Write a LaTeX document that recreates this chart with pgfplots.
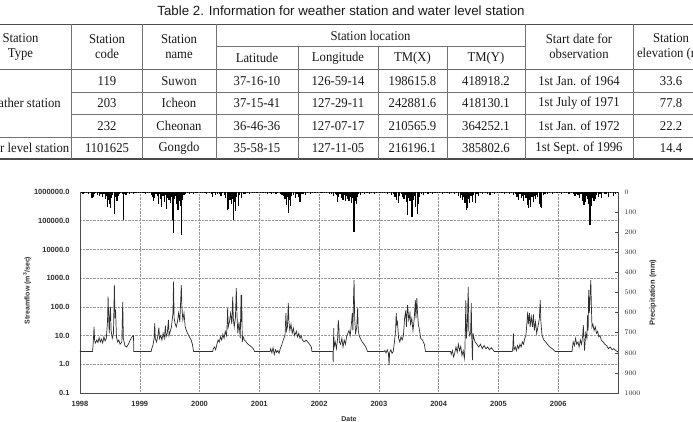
\documentclass[border=0pt]{standalone}
\usepackage{pgfplots}
\pgfplotsset{compat=1.18}
\usepackage{fontspec}
\setmainfont{Liberation Serif}
\newfontfamily\tabfont{Liberation Serif}[FakeStretch=0.94]
\newfontfamily\capfont{Liberation Sans}
\newfontfamily\plotfont{Liberation Sans}

\begin{document}
\begin{tikzpicture}[x=1pt,y=1pt]
\useasboundingbox (0,0) rectangle (693,421);
\clip (0,0) rectangle (693,421);

% ---------------- Table 2 ----------------
\begin{scope}[shift={(0pt,421pt)}, y=-1pt,
  every node/.style={font=\tabfont\fontsize{13.5}{15}\selectfont, text=black!90, inner sep=0pt}]
  \node[font=\capfont\fontsize{13.3}{15}\selectfont] at (341,10.7)
    {Table 2. Information for weather station and water level station};
  % rules
  \draw[black!70, line width=1.5pt] (0,24.3) -- (693,24.3);
  \draw[black!55, line width=0.8pt] (216,46.7) -- (525,46.7);
  \draw[black!60, line width=0.9pt] (0,69) -- (693,69);
  \draw[black!55, line width=0.8pt] (71,92) -- (693,92);
  \draw[black!55, line width=0.8pt] (71,114.5) -- (693,114.5);
  \draw[black!55, line width=0.8pt] (0,137) -- (693,137);
  \draw[black!70, line width=1.5pt] (0,159) -- (693,159);
  \foreach \cx in {71,142,216,525,633}
    \draw[black!55, line width=0.8pt] (\cx,24.3) -- (\cx,159);
  \foreach \cx in {298,378,447}
    \draw[black!55, line width=0.8pt] (\cx,46.7) -- (\cx,159);
  % header
  \node[align=center] at (20.5,46.5) {Station\\Type};
  \node[align=center] at (107,46.5) {Station\\code};
  \node[align=center] at (179,46.5) {Station\\name};
  \node at (370.5,35.5) {Station location};
  \node at (257,58) {Latitude};
  \node at (338,58) {Longitude};
  \node at (412.5,58) {TM(X)};
  \node at (486,58) {TM(Y)};
  \node[align=center] at (579,46.5) {Start date for\\observation};
  \node[align=center] at (671,46.5) {Station\\elevation (m)};
  % body
  \node[anchor=east] at (61,103) {Weather station};
  \node[anchor=east] at (69.5,148) {Water level station};
  \foreach \yy/\c/\n/\la/\lo/\tx/\ty/\d/\e in {
      81/119/Suwon/37-16-10/126-59-14/198615.8/418918.2/1st Jan. of 1964/33.6,
      103/203/Icheon/37-15-41/127-29-11/242881.6/418130.1/1st July of 1971/77.8,
      126/232/Cheonan/36-46-36/127-07-17/210565.9/364252.1/1st Jan. of 1972/22.2,
      148/1101625/Gongdo/35-58-15/127-11-05/216196.1/385802.6/1st Sept. of 1996/14.4}{
    \node at (107,\yy) {\c};
    \node at (179,\yy) {\n};
    \node at (257,\yy) {\la};
    \node at (338,\yy) {\lo};
    \node at (412.5,\yy) {\tx};
    \node at (486,\yy) {\ty};
    \node at (579,\yy) {\d};
    \node at (671,\yy) {\e};
  }
\end{scope}

% ---------------- Streamflow (log scale) ----------------
\begin{axis}[
  at={(80pt,28pt)}, anchor=south west, scale only axis,
  width=538pt, height=201pt,
  xmin=1998, xmax=2007, ymode=log, ymin=0.1, ymax=1e6,
  xtick={1998,1999,2000,2001,2002,2003,2004,2005,2006},
  xticklabels={1998,1999,2000,2001,2002,2003,2004,2005,2006},
  ytick={0.1,1,10,100,1000,10000,100000,1000000},
  yticklabels={0.1,1.0,10.0,100.0,1000.0,10000.0,100000.0,1000000.0},
  tick label style={font=\plotfont\bfseries\fontsize{7.5}{9}\selectfont, text=black!82},
  xticklabel style={yshift=-5pt},
  yticklabel style={xshift=-7pt},
  major tick length=0pt, minor tick length=0pt,
  grid=major, major grid style={densely dotted, black!40, line width=0.5pt},
  axis line style={black!70, line width=0.9pt},
  label style={font=\plotfont\bfseries\fontsize{7}{8.5}\selectfont, text=black!82},
  ylabel={Streamflow (m\textsuperscript{3}/sec)},
  ylabel style={at={(axis description cs:-0.0985,0.51)}, anchor=center},
  xlabel={Date},
  xlabel style={at={(axis description cs:0.5,-0.13)}, anchor=center},
]
\addplot[black!82, line width=0.7pt] coordinates {
(1998.00,2.8) (1998.21,2.8) (1998.22,5.0) (1998.235,20) (1998.245,6.5) (1998.26,5.5)
(1998.28,7.0) (1998.30,5.8) (1998.32,8.5) (1998.34,6.0) (1998.36,7.5) (1998.38,5.5)
(1998.40,9.0) (1998.42,6.5) (1998.44,8.0) (1998.46,30) (1998.47,226) (1998.48,40)
(1998.49,12) (1998.50,60) (1998.51,100) (1998.52,15) (1998.54,8) (1998.56,12)
(1998.575,575) (1998.585,40) (1998.595,80) (1998.61,9) (1998.63,6) (1998.65,7)
(1998.67,5) (1998.70,6) (1998.715,150) (1998.725,8) (1998.75,4.5) (1998.78,4.0)
(1998.81,5) (1998.84,7) (1998.87,9) (1998.895,10) (1998.90,2.8)
(1999.19,2.8) (1999.20,3.5) (1999.22,4.5) (1999.24,8) (1999.25,27) (1999.26,8)
(1999.28,6) (1999.30,9) (1999.32,19) (1999.33,8) (1999.35,10) (1999.37,7)
(1999.39,12) (1999.41,8) (1999.43,22) (1999.44,9) (1999.46,12) (1999.48,35)
(1999.49,10) (1999.51,14) (1999.53,20) (1999.555,60) (1999.565,760) (1999.575,40)
(1999.59,27) (1999.61,20) (1999.63,30) (1999.65,61) (1999.67,30) (1999.695,575)
(1999.705,100) (1999.72,35) (1999.74,60) (1999.76,20) (1999.78,15) (1999.80,12)
(1999.83,9) (1999.86,7) (1999.88,5) (1999.90,2.8)
(2000.22,2.8) (2000.23,3.5) (2000.25,4.0) (2000.27,3.2) (2000.29,5) (2000.31,7)
(2000.33,6) (2000.35,9) (2000.37,7) (2000.39,11) (2000.41,8) (2000.43,14)
(2000.45,10) (2000.46,20) (2000.47,90) (2000.48,20) (2000.50,30) (2000.52,60)
(2000.54,25) (2000.555,226) (2000.565,40) (2000.58,20) (2000.60,40) (2000.615,450)
(2000.625,60) (2000.64,12) (2000.66,30) (2000.68,8) (2000.695,260) (2000.70,30)
(2000.705,260) (2000.715,6) (2000.73,9) (2000.75,7) (2000.78,6) (2000.81,5)
(2000.84,4.5) (2000.87,4) (2000.90,3.5) (2000.92,2.8)
(2001.18,2.8) (2001.19,3.5) (2001.21,2.5) (2001.23,3.8) (2001.25,2.2) (2001.27,3.2)
(2001.29,2.6) (2001.31,3.0) (2001.33,2.4) (2001.35,3.5) (2001.37,4.5) (2001.39,6)
(2001.41,8) (2001.43,10) (2001.445,60) (2001.455,15) (2001.47,20) (2001.485,135)
(2001.495,30) (2001.51,15) (2001.53,25) (2001.55,12) (2001.57,18) (2001.59,10)
(2001.62,14) (2001.64,9) (2001.66,12) (2001.68,8) (2001.70,10) (2001.72,7)
(2001.75,6) (2001.78,7) (2001.81,6) (2001.84,5) (2001.87,4) (2001.88,2.8)
(2002.23,2.8) (2002.235,1.2) (2002.245,18) (2002.25,4) (2002.27,6) (2002.29,3.5)
(2002.31,8) (2002.32,35) (2002.33,21) (2002.34,6) (2002.36,5) (2002.38,8)
(2002.40,4) (2002.42,7) (2002.44,5) (2002.46,9) (2002.48,12) (2002.50,15)
(2002.52,10) (2002.54,25) (2002.555,60) (2002.565,15) (2002.575,170) (2002.585,860)
(2002.595,40) (2002.61,12) (2002.63,20) (2002.645,90) (2002.655,15) (2002.67,10)
(2002.69,8) (2002.72,6) (2002.75,5) (2002.78,4) (2002.81,2.8)
(2003.09,2.8) (2003.10,3.0) (2003.12,2.5) (2003.14,3.2) (2003.16,2.4) (2003.17,0.94)
(2003.18,2.6) (2003.20,3.2) (2003.22,2.4) (2003.24,2.8) (2003.26,6) (2003.28,15)
(2003.29,60) (2003.30,25) (2003.31,30) (2003.33,8) (2003.35,6) (2003.37,9)
(2003.39,7) (2003.41,10) (2003.43,40) (2003.45,75) (2003.46,20) (2003.48,115)
(2003.50,35) (2003.52,60) (2003.53,25) (2003.55,40) (2003.57,15) (2003.59,35)
(2003.61,170) (2003.62,40) (2003.635,200) (2003.645,70) (2003.66,25) (2003.68,15)
(2003.70,8) (2003.73,7) (2003.76,5) (2003.78,2.8)
(2004.20,2.8) (2004.21,2.2) (2004.23,3.0) (2004.25,1.8) (2004.27,2.5) (2004.29,4.0)
(2004.31,2.6) (2004.33,5.0) (2004.35,3.0) (2004.37,4.2) (2004.39,2.0) (2004.41,3.0)
(2004.43,1.6) (2004.44,3.5) (2004.455,170) (2004.465,8) (2004.48,25) (2004.495,500)
(2004.505,15) (2004.52,10) (2004.535,12) (2004.545,135) (2004.555,8) (2004.565,1.4)
(2004.575,12) (2004.59,8) (2004.61,6) (2004.64,5) (2004.67,4) (2004.70,5)
(2004.73,3.5) (2004.76,4.5) (2004.79,3.5) (2004.82,4.0) (2004.85,3.2) (2004.88,3.8)
(2004.93,2.8)
(2005.23,2.8) (2005.24,3.5) (2005.25,12) (2005.26,3.2) (2005.28,4.0) (2005.30,3.0)
(2005.32,4.5) (2005.34,3.5) (2005.36,5) (2005.38,4) (2005.40,6) (2005.42,5)
(2005.44,8) (2005.46,10) (2005.48,35) (2005.49,68) (2005.50,25) (2005.52,60)
(2005.53,20) (2005.55,45) (2005.57,20) (2005.585,55) (2005.60,15) (2005.62,30)
(2005.64,12) (2005.66,20) (2005.685,40) (2005.70,170) (2005.71,30) (2005.73,10)
(2005.76,7) (2005.79,6) (2005.82,5) (2005.86,4) (2005.90,3.5) (2005.95,2.8)
(2006.23,2.8) (2006.24,4) (2006.25,6) (2006.27,4.5) (2006.29,8) (2006.31,5)
(2006.33,6) (2006.35,4) (2006.37,7) (2006.39,5) (2006.41,10) (2006.42,23)
(2006.43,8) (2006.44,3) (2006.46,12) (2006.48,8) (2006.49,50) (2006.50,15)
(2006.51,390) (2006.52,60) (2006.53,170) (2006.545,860) (2006.555,100) (2006.565,20)
(2006.58,25) (2006.60,15) (2006.62,20) (2006.64,12) (2006.66,14) (2006.68,9)
(2006.70,10) (2006.72,7) (2006.75,6) (2006.78,5) (2006.81,4.5) (2006.84,3.5)
(2006.87,4) (2006.90,3.2) (2006.93,3.5) (2006.96,3.0) (2007.00,2.7)
};
\end{axis}

% ---------------- Precipitation (reversed, right axis) ----------------
\begin{axis}[
  at={(80pt,28pt)}, anchor=south west, scale only axis,
  width=538pt, height=201pt,
  xmin=1998, xmax=2007, ymin=0, ymax=1000, y dir=reverse,
  axis x line=none, axis y line*=right,
  ytick={0,100,200,300,400,500,600,700,800,900,1000},
  yticklabel style={font=\plotfont\bfseries\fontsize{7.5}{9}\selectfont, text=black!82,
    /pgf/number format/1000 sep={}, xshift=3pt},
  tick align=inside, major tick length=3pt,
  tick style={black!70, line width=0.6pt},
  axis line style={black!70, line width=0.9pt},
  ylabel={Precipitation (mm)},
  ylabel style={font=\plotfont\bfseries\fontsize{7.5}{9}\selectfont, text=black!82,
    at={(axis description cs:1.065,0.5)}, anchor=center},
]
\addplot[ycomb, black, line width=1.2pt] coordinates {
(1998.02,3) (1998.05,8) (1998.08,2) (1998.11,5) (1998.14,12) (1998.17,4) (1998.20,30)
(1998.22,25) (1998.24,10) (1998.26,6) (1998.29,15) (1998.31,4) (1998.33,20) (1998.35,8)
(1998.38,25) (1998.40,12) (1998.42,35) (1998.44,18) (1998.46,73) (1998.47,40) (1998.49,58)
(1998.51,80) (1998.53,30) (1998.55,15) (1998.58,107) (1998.60,25) (1998.62,45) (1998.64,20)
(1998.66,10) (1998.68,5) (1998.71,12) (1998.725,140) (1998.74,8) (1998.77,15) (1998.80,6)
(1998.83,10) (1998.86,4) (1998.89,8) (1998.92,3) (1998.95,6) (1998.98,2)
(1999.01,4) (1999.04,7) (1999.07,2) (1999.10,10) (1999.13,5) (1999.16,3) (1999.19,15)
(1999.21,25) (1999.23,45) (1999.25,30) (1999.27,8) (1999.29,20) (1999.31,60) (1999.33,12)
(1999.35,35) (1999.37,73) (1999.39,20) (1999.41,50) (1999.43,15) (1999.45,85) (1999.47,30)
(1999.49,40) (1999.51,55) (1999.53,25) (1999.555,140) (1999.565,205) (1999.58,35) (1999.60,20)
(1999.62,60) (1999.64,90) (1999.66,45) (1999.68,70) (1999.70,214) (1999.72,40) (1999.74,15)
(1999.77,10) (1999.80,5) (1999.83,12) (1999.86,3) (1999.90,8) (1999.94,2) (1999.97,5)
(2000.02,3) (2000.05,6) (2000.09,2) (2000.12,8) (2000.16,4) (2000.20,10) (2000.22,25)
(2000.24,6) (2000.27,15) (2000.30,8) (2000.33,12) (2000.36,20) (2000.39,5) (2000.42,15)
(2000.44,30) (2000.465,90) (2000.475,85) (2000.49,20) (2000.51,40) (2000.53,60) (2000.55,35)
(2000.57,140) (2000.58,50) (2000.60,95) (2000.62,25) (2000.65,70) (2000.67,15) (2000.70,30)
(2000.73,8) (2000.76,12) (2000.80,4) (2000.84,10) (2000.88,3) (2000.92,6) (2000.96,2)
(2001.02,2) (2001.06,5) (2001.10,3) (2001.14,8) (2001.18,4) (2001.21,10) (2001.24,6)
(2001.28,12) (2001.31,3) (2001.35,8) (2001.38,15) (2001.41,20) (2001.43,35) (2001.45,65)
(2001.47,25) (2001.49,105) (2001.50,40) (2001.52,70) (2001.54,20) (2001.57,15) (2001.60,30)
(2001.63,10) (2001.66,25) (2001.68,48) (2001.70,12) (2001.73,8) (2001.77,15) (2001.81,5)
(2001.85,10) (2001.89,3) (2001.93,6) (2001.97,2)
(2002.02,4) (2002.05,2) (2002.09,6) (2002.13,3) (2002.17,8) (2002.21,12) (2002.24,20)
(2002.27,8) (2002.29,15) (2002.31,48) (2002.33,25) (2002.35,10) (2002.38,30) (2002.40,40)
(2002.42,15) (2002.44,45) (2002.46,20) (2002.48,35) (2002.50,45) (2002.52,25) (2002.54,55)
(2002.56,30) (2002.585,197) (2002.60,45) (2002.62,60) (2002.64,25) (2002.66,10) (2002.69,15)
(2002.72,5) (2002.76,10) (2002.80,3) (2002.84,8) (2002.88,4) (2002.92,12) (2002.96,3)
(2003.02,3) (2003.06,6) (2003.10,2) (2003.14,10) (2003.18,5) (2003.21,15) (2003.24,8)
(2003.27,23) (2003.30,40) (2003.33,57) (2003.35,20) (2003.38,12) (2003.40,25) (2003.42,35)
(2003.44,15) (2003.46,50) (2003.48,115) (2003.50,30) (2003.52,45) (2003.54,115) (2003.555,123)
(2003.57,40) (2003.59,20) (2003.61,75) (2003.64,108) (2003.66,60) (2003.68,25) (2003.71,10)
(2003.74,15) (2003.78,5) (2003.82,8) (2003.86,3) (2003.90,10) (2003.94,4) (2003.98,6)
(2004.02,2) (2004.06,8) (2004.10,3) (2004.14,5) (2004.18,12) (2004.22,4) (2004.26,10)
(2004.30,6) (2004.33,20) (2004.36,30) (2004.38,15) (2004.40,40) (2004.42,25) (2004.44,55)
(2004.46,90) (2004.48,80) (2004.50,35) (2004.52,57) (2004.54,20) (2004.56,50) (2004.58,15)
(2004.61,57) (2004.64,10) (2004.67,20) (2004.70,6) (2004.74,12) (2004.78,4) (2004.82,8)
(2004.86,15) (2004.90,3) (2004.94,10) (2004.98,5)
(2005.02,4) (2005.06,2) (2005.10,8) (2005.14,3) (2005.18,10) (2005.22,6) (2005.25,15)
(2005.28,8) (2005.31,25) (2005.33,40) (2005.36,12) (2005.38,30) (2005.40,20) (2005.42,45)
(2005.44,15) (2005.46,30) (2005.48,65) (2005.50,80) (2005.52,40) (2005.54,73) (2005.56,25)
(2005.58,50) (2005.60,20) (2005.62,35) (2005.64,15) (2005.66,25) (2005.69,60) (2005.71,73)
(2005.72,80) (2005.75,15) (2005.78,8) (2005.82,12) (2005.86,4) (2005.90,8) (2005.94,3)
(2005.98,6)
(2006.02,3) (2006.06,8) (2006.10,2) (2006.14,6) (2006.18,12) (2006.22,4) (2006.25,10)
(2006.28,20) (2006.30,8) (2006.33,15) (2006.36,30) (2006.38,10) (2006.40,45) (2006.42,25)
(2006.43,65) (2006.45,50) (2006.47,20) (2006.49,35) (2006.51,60) (2006.53,164) (2006.545,164)
(2006.56,70) (2006.58,30) (2006.60,45) (2006.62,35) (2006.64,15) (2006.67,25) (2006.70,10)
(2006.73,30) (2006.77,8) (2006.80,12) (2006.84,25) (2006.88,6) (2006.92,20) (2006.96,10)
(2006.99,5)
};
\end{axis}
\end{tikzpicture}
\end{document}
